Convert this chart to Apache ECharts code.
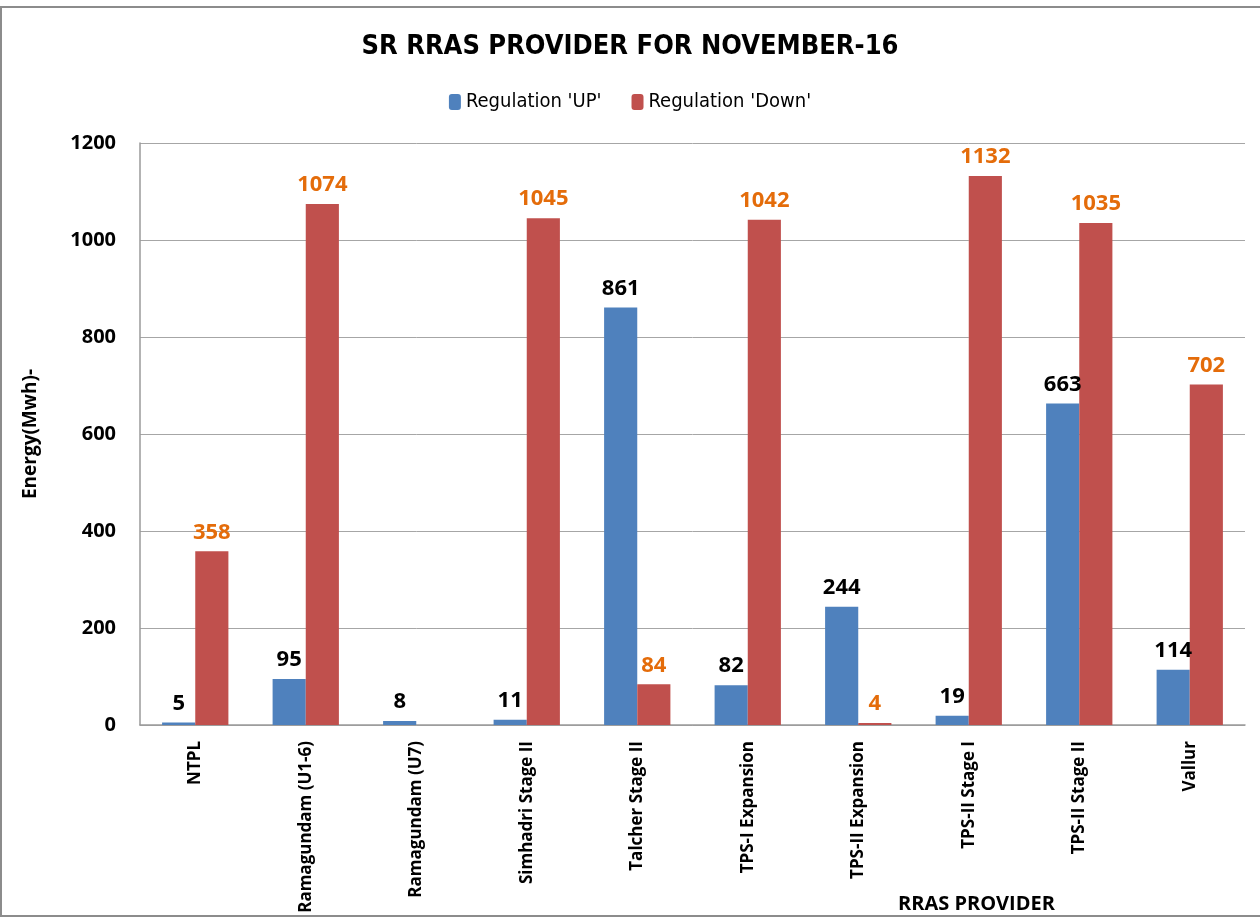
<!DOCTYPE html>
<html>
<head>
<meta charset="utf-8">
<script src="https://cdn.jsdelivr.net/npm/echarts@6/dist/echarts.min.js"></script>
<style>html,body{margin:0;padding:0;background:#fff}#c{width:1260px;height:919px}</style>
</head>
<body>
<div id="c"></div>
<script>
const categories = ['NTPL','Ramagundam (U1-6)','Ramagundam (U7)','Simhadri Stage II','Talcher Stage II','TPS-I Expansion','TPS-II Expansion','TPS-II Stage I','TPS-II Stage II','Vallur'];
const regulationUp = [5, 95, 8, 11, 861, 82, 244, 19, 663, 114];
const regulationDown = [358, 1074, null, 1045, 84, 1042, 4, 1132, 1035, 702];
const yTicks = {min: 0, max: 1200, interval: 200};

const FONT = '"DejaVu Sans Condensed","Open Sans",sans-serif';
const FONT2 = '"Open Sans","Noto Sans",sans-serif';
const chart = echarts.init(document.getElementById('c'));
chart.setOption({
  backgroundColor: '#fff',
  animation: false,
  graphic: [{type:'rect', shape:{x:1, y:7, width:1300, height:909}, style:{fill:'none', stroke:'#8c8c8c', lineWidth:2}, silent:true}],
  title: [
    {text: 'SR RRAS PROVIDER FOR NOVEMBER-16', left: 'center', top: 28,
     textStyle: {fontFamily: FONT, fontWeight: 'bold', fontSize: 27, color: '#000'}},
    {text: 'RRAS PROVIDER', left: 893, top: 889,
     textStyle: {fontFamily: FONT2, fontWeight: 'bold', fontSize: 20, color: '#000'}}
  ],
  legend: {
    top: 87, left: 'center', itemWidth: 12, itemHeight: 16, itemGap: 30,
    textStyle: {fontFamily: FONT, fontSize: 20, color: '#000'},
    data: ["Regulation 'UP'", "Regulation 'Down'"]
  },
  grid: {left: 140, right: 15, top: 143, bottom: 194},
  xAxis: {
    type: 'category', data: categories,
    axisLine: {lineStyle: {color: '#9a9a9a', width: 1.5}},
    axisTick: {show: false},
    axisLabel: {rotate: 90, interval: 0, margin: 16, fontFamily: FONT2, fontWeight: 'bold', fontSize: 17, color: '#000'}
  },
  yAxis: {
    type: 'value', min: yTicks.min, max: yTicks.max, interval: yTicks.interval,
    name: 'Energy(Mwh)-', nameLocation: 'middle', nameGap: 100, nameRotate: 90,
    nameTextStyle: {fontFamily: FONT2, fontWeight: 'bold', fontSize: 19, color: '#000'},
    axisLine: {show: true, lineStyle: {color: '#9a9a9a', width: 1.5}},
    axisTick: {show: false},
    splitLine: {lineStyle: {color: '#a6a6a6', width: 1}},
    axisLabel: {margin: 24, fontFamily: FONT2, fontWeight: 'bold', fontSize: 20, color: '#000', formatter: v => String(v)}
  },
  series: [
    {name: "Regulation 'UP'", type: 'bar', data: regulationUp, barGap: '0%', barCategoryGap: '40%',
     itemStyle: {color: '#4F81BD'},
     label: {show: true, position: 'top', distance: 8, fontFamily: FONT2, fontWeight: 'bold', fontSize: 22, color: '#000'}},
    {name: "Regulation 'Down'", type: 'bar', data: regulationDown,
     itemStyle: {color: '#C0504D'},
     label: {show: true, position: 'top', distance: 8, fontFamily: FONT2, fontWeight: 'bold', fontSize: 22, color: '#E46C0A'}}
  ]
});
</script>
</body>
</html>
